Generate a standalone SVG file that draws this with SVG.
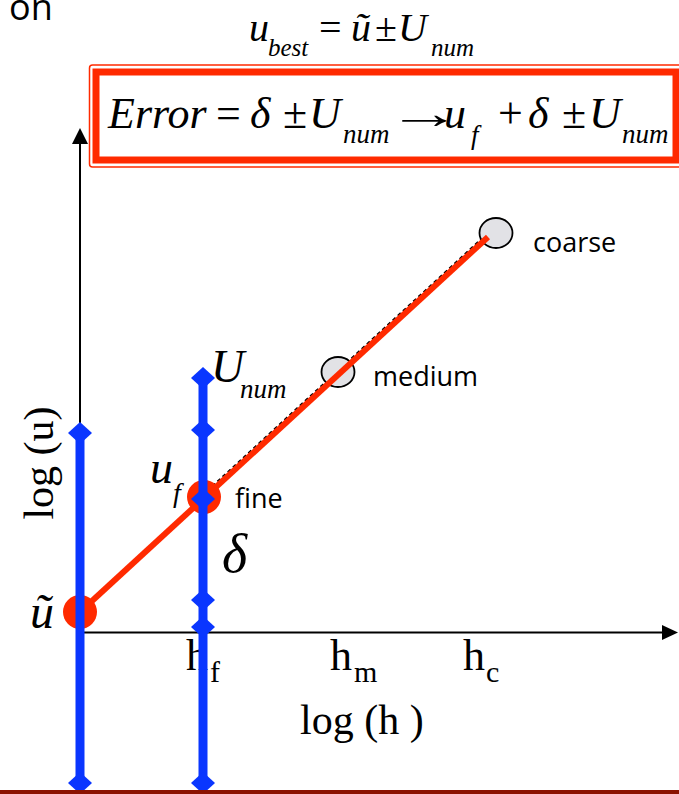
<svg xmlns="http://www.w3.org/2000/svg" width="679" height="794" viewBox="0 0 679 794">
<defs>
<style>
.s{font-family:"Liberation Serif","DejaVu Serif",serif;fill:#000}
.i{font-style:italic}
.sans{font-family:"Open Sans","Liberation Sans",sans-serif;fill:#000}
.blue{stroke:#0a36ff;stroke-width:9;fill:none}
.dia{fill:#0a36ff}
.grey{fill:#e2e2e6;stroke:#000;stroke-width:1.8}
.red{fill:#ff2a00}
</style>
<path id="d" d="M0,-11 L12,0 L0,11 L-12,0 Z"/>
</defs>
<rect x="0" y="0" width="679" height="794" fill="#fff"/>

<g id="caption">
<text class="sans" x="9" y="20" font-size="36">on</text>
</g>

<g id="ubest-formula">
<text class="s i" x="249" y="41" font-size="40">u</text>
<text class="s i" x="268" y="56" font-size="25">best</text>
<text class="s" x="319" y="41" font-size="40">=</text>
<text class="s i" x="351" y="41" font-size="40">ũ</text>
<text class="s" x="375" y="41" font-size="40">±</text>
<text class="s i" x="398" y="41" font-size="40">U</text>
<text class="s i" x="431" y="56" font-size="25">num</text>
</g>

<g id="error-box">
<rect x="89.5" y="65" width="600" height="102" rx="3" fill="none" stroke="#ff2a00" stroke-width="1.5"/>
<rect x="96" y="72" width="580" height="88" fill="#fff" stroke="#ff2a00" stroke-width="7"/>
<text class="s i" x="108" y="128" font-size="44">Error</text>
<text class="s" x="216" y="128" font-size="44">=</text>
<text class="s i" x="250" y="128" font-size="44">δ</text>
<text class="s" x="283" y="128" font-size="44">±</text>
<text class="s i" x="309" y="128" font-size="44">U</text>
<text class="s i" x="343" y="143" font-size="27">num</text>
<text class="s" font-size="44" transform="translate(387,128) scale(1.7,1)">→</text>
<text class="s i" x="444" y="128" font-size="44">u</text>
<text class="s i" x="471" y="144" font-size="27">f</text>
<text class="s" x="498" y="128" font-size="44">+</text>
<text class="s i" x="528" y="128" font-size="44">δ</text>
<text class="s" x="562" y="128" font-size="44">±</text>
<text class="s i" x="589" y="128" font-size="44">U</text>
<text class="s i" x="622" y="143" font-size="27">num</text>
</g>

<g id="axes">
<line x1="80" y1="140" x2="80" y2="633" stroke="#000" stroke-width="2"/>
<polygon points="80,128 72,144 88,144" fill="#000"/>
<line x1="79" y1="632.5" x2="665" y2="632.5" stroke="#000" stroke-width="2"/>
<polygon points="678,632.5 662,625 662,640" fill="#000"/>
<text class="s" font-size="42" text-anchor="middle" transform="translate(53,463) rotate(-90)">log (u)</text>
<text class="s" x="300" y="734" font-size="42">log (h )</text>
<text class="s" x="186" y="670" font-size="44">h</text>
<text class="s" x="210" y="682" font-size="30">f</text>
<text class="s" x="330" y="670" font-size="44">h</text>
<text class="s" x="354" y="682" font-size="30">m</text>
<text class="s" x="463" y="670" font-size="44">h</text>
<text class="s" x="486" y="682" font-size="30">c</text>
</g>

<g id="connectors">
<line x1="202" y1="495.8" x2="486" y2="234.8" stroke="#000" stroke-width="2" stroke-dasharray="4 3"/>
</g>

<g id="coarse">
<ellipse class="grey" cx="496" cy="233" rx="16.5" ry="15"/>
<text class="sans" x="533" y="252" font-size="27">coarse</text>
</g>
<g id="medium">
<ellipse class="grey" cx="338" cy="372" rx="16.5" ry="15"/>
<text class="sans" x="373" y="386" font-size="27">medium</text>
</g>

<g id="fit-line">
<line x1="80" y1="612" x2="488" y2="237" stroke="#ff2a00" stroke-width="6"/>
</g>

<g id="u-tilde">
<circle class="red" cx="80" cy="612" r="17"/>
<text class="s i" x="30" y="628" font-size="48">ũ</text>
</g>
<g id="fine">
<circle class="red" cx="204" cy="497" r="17"/>
<text class="sans" x="235" y="508" font-size="27">fine</text>
<text class="s i" x="150" y="483" font-size="46">u</text>
<text class="s i" x="173" y="502" font-size="28">f</text>
</g>

<g id="left-bar">
<line class="blue" x1="80" y1="433" x2="80" y2="783"/>
<use href="#d" class="dia" x="80" y="433"/>
<use href="#d" class="dia" x="80" y="783"/>
</g>

<g id="right-bar">
<line class="blue" x1="203" y1="378" x2="203" y2="783"/>
<use href="#d" class="dia" x="203" y="378"/>
<use href="#d" class="dia" x="203" y="430"/>
<use href="#d" class="dia" x="203" y="499"/>
<use href="#d" class="dia" x="203" y="600"/>
<use href="#d" class="dia" x="203" y="627"/>
<use href="#d" class="dia" x="203" y="783"/>
<text class="s i" x="211" y="382" font-size="46">U</text>
<text class="s i" x="240" y="398" font-size="27">num</text>
<text class="s i" x="222" y="572" font-size="54">δ</text>
</g>

<rect x="0" y="790" width="679" height="4" fill="#8b1200"/>
</svg>
